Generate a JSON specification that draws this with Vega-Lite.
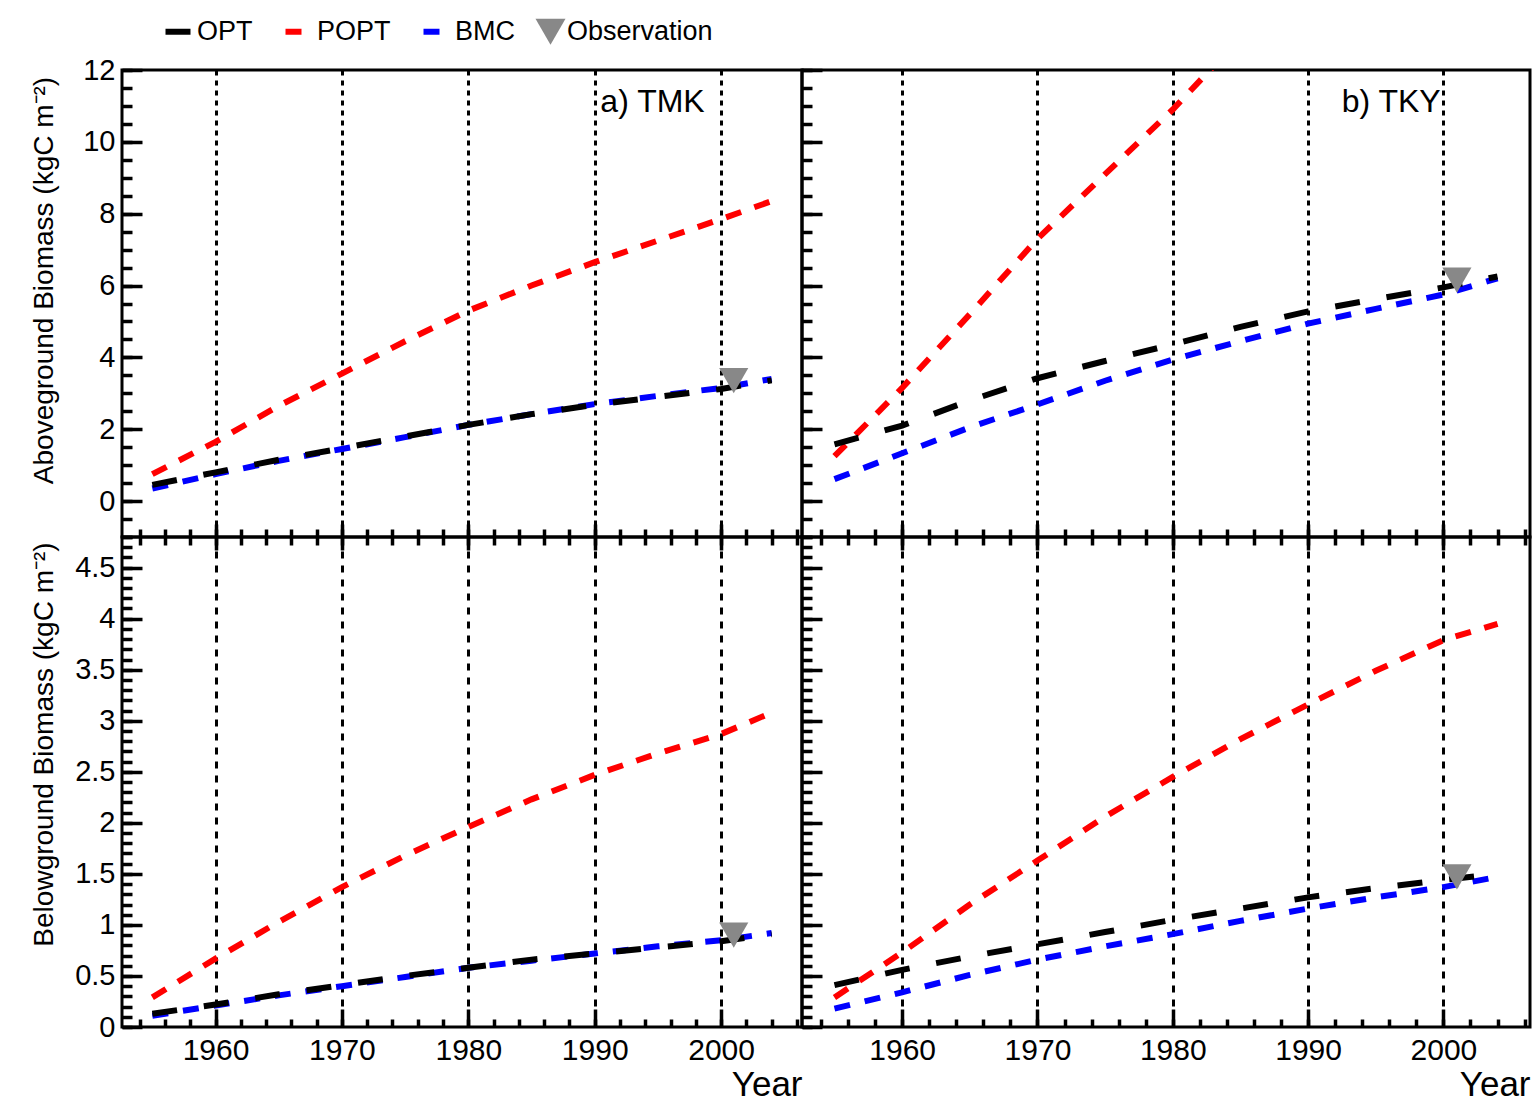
{
  "$schema": "https://vega.github.io/schema/vega-lite/v6.json",
  "padding": {"left": 28, "top": 18, "right": 0, "bottom": 0},
  "config": {
    "font": "Liberation Sans",
    "view": {"stroke": "black", "strokeWidth": 3},
    "axis": {"domain": false, "tickColor": "black", "labelColor": "black", "titleColor": "black", "titleFontWeight": "normal", "grid": false, "tickWidth": 3.5, "labelFont": "Liberation Sans", "titleFont": "Liberation Sans"}
  },
  "data": {"values": [
    {"site":"TMK","part":"Above","series":"POPT","year":1955,"value":0.75},
    {"site":"TMK","part":"Above","series":"POPT","year":1960,"value":1.65},
    {"site":"TMK","part":"Above","series":"POPT","year":1965,"value":2.65},
    {"site":"TMK","part":"Above","series":"POPT","year":1970,"value":3.55},
    {"site":"TMK","part":"Above","series":"POPT","year":1975,"value":4.45},
    {"site":"TMK","part":"Above","series":"POPT","year":1980,"value":5.3},
    {"site":"TMK","part":"Above","series":"POPT","year":1985,"value":6.0},
    {"site":"TMK","part":"Above","series":"POPT","year":1990,"value":6.65},
    {"site":"TMK","part":"Above","series":"POPT","year":1995,"value":7.25},
    {"site":"TMK","part":"Above","series":"POPT","year":2000,"value":7.85},
    {"site":"TMK","part":"Above","series":"POPT","year":2004,"value":8.35},
    {"site":"TMK","part":"Above","series":"BMC","year":1955,"value":0.35},
    {"site":"TMK","part":"Above","series":"BMC","year":1960,"value":0.75},
    {"site":"TMK","part":"Above","series":"BMC","year":1965,"value":1.12},
    {"site":"TMK","part":"Above","series":"BMC","year":1970,"value":1.45},
    {"site":"TMK","part":"Above","series":"BMC","year":1975,"value":1.78},
    {"site":"TMK","part":"Above","series":"BMC","year":1980,"value":2.12},
    {"site":"TMK","part":"Above","series":"BMC","year":1985,"value":2.42},
    {"site":"TMK","part":"Above","series":"BMC","year":1990,"value":2.7},
    {"site":"TMK","part":"Above","series":"BMC","year":1995,"value":2.93},
    {"site":"TMK","part":"Above","series":"BMC","year":2000,"value":3.15},
    {"site":"TMK","part":"Above","series":"BMC","year":2004,"value":3.4},
    {"site":"TMK","part":"Above","series":"OPT","year":1955,"value":0.45},
    {"site":"TMK","part":"Above","series":"OPT","year":1960,"value":0.8},
    {"site":"TMK","part":"Above","series":"OPT","year":1965,"value":1.15},
    {"site":"TMK","part":"Above","series":"OPT","year":1970,"value":1.47},
    {"site":"TMK","part":"Above","series":"OPT","year":1975,"value":1.8},
    {"site":"TMK","part":"Above","series":"OPT","year":1980,"value":2.12},
    {"site":"TMK","part":"Above","series":"OPT","year":1985,"value":2.42},
    {"site":"TMK","part":"Above","series":"OPT","year":1990,"value":2.68},
    {"site":"TMK","part":"Above","series":"OPT","year":1995,"value":2.9},
    {"site":"TMK","part":"Above","series":"OPT","year":2000,"value":3.12},
    {"site":"TMK","part":"Above","series":"OPT","year":2004,"value":3.36},
    {"site":"TMK","part":"Above","series":"Observation","year":2001,"value":3.35},

    {"site":"TKY","part":"Above","series":"POPT","year":1955,"value":1.25},
    {"site":"TKY","part":"Above","series":"POPT","year":1960,"value":3.15},
    {"site":"TKY","part":"Above","series":"POPT","year":1965,"value":5.2},
    {"site":"TKY","part":"Above","series":"POPT","year":1970,"value":7.3},
    {"site":"TKY","part":"Above","series":"POPT","year":1975,"value":9.1},
    {"site":"TKY","part":"Above","series":"POPT","year":1980,"value":10.9},
    {"site":"TKY","part":"Above","series":"POPT","year":1983,"value":12.1},
    {"site":"TKY","part":"Above","series":"BMC","year":1955,"value":0.61},
    {"site":"TKY","part":"Above","series":"BMC","year":1960,"value":1.33},
    {"site":"TKY","part":"Above","series":"BMC","year":1965,"value":2.05},
    {"site":"TKY","part":"Above","series":"BMC","year":1970,"value":2.69},
    {"site":"TKY","part":"Above","series":"BMC","year":1975,"value":3.35},
    {"site":"TKY","part":"Above","series":"BMC","year":1980,"value":3.94},
    {"site":"TKY","part":"Above","series":"BMC","year":1985,"value":4.45},
    {"site":"TKY","part":"Above","series":"BMC","year":1990,"value":4.94},
    {"site":"TKY","part":"Above","series":"BMC","year":1995,"value":5.35},
    {"site":"TKY","part":"Above","series":"BMC","year":2000,"value":5.75},
    {"site":"TKY","part":"Above","series":"BMC","year":2004,"value":6.2},
    {"site":"TKY","part":"Above","series":"OPT","year":1955,"value":1.58},
    {"site":"TKY","part":"Above","series":"OPT","year":1960,"value":2.1},
    {"site":"TKY","part":"Above","series":"OPT","year":1965,"value":2.8},
    {"site":"TKY","part":"Above","series":"OPT","year":1970,"value":3.42},
    {"site":"TKY","part":"Above","series":"OPT","year":1975,"value":3.9},
    {"site":"TKY","part":"Above","series":"OPT","year":1980,"value":4.36},
    {"site":"TKY","part":"Above","series":"OPT","year":1985,"value":4.85},
    {"site":"TKY","part":"Above","series":"OPT","year":1990,"value":5.28},
    {"site":"TKY","part":"Above","series":"OPT","year":1995,"value":5.62},
    {"site":"TKY","part":"Above","series":"OPT","year":2000,"value":5.95},
    {"site":"TKY","part":"Above","series":"OPT","year":2004,"value":6.25},
    {"site":"TKY","part":"Above","series":"Observation","year":2001,"value":6.15},

    {"site":"TMK","part":"Below","series":"POPT","year":1955,"value":0.29},
    {"site":"TMK","part":"Below","series":"POPT","year":1960,"value":0.67},
    {"site":"TMK","part":"Below","series":"POPT","year":1965,"value":1.03},
    {"site":"TMK","part":"Below","series":"POPT","year":1970,"value":1.37},
    {"site":"TMK","part":"Below","series":"POPT","year":1975,"value":1.68},
    {"site":"TMK","part":"Below","series":"POPT","year":1980,"value":1.96},
    {"site":"TMK","part":"Below","series":"POPT","year":1985,"value":2.23},
    {"site":"TMK","part":"Below","series":"POPT","year":1990,"value":2.47},
    {"site":"TMK","part":"Below","series":"POPT","year":1995,"value":2.68},
    {"site":"TMK","part":"Below","series":"POPT","year":2000,"value":2.87},
    {"site":"TMK","part":"Below","series":"POPT","year":2004,"value":3.08},
    {"site":"TMK","part":"Below","series":"BMC","year":1955,"value":0.11},
    {"site":"TMK","part":"Below","series":"BMC","year":1960,"value":0.21},
    {"site":"TMK","part":"Below","series":"BMC","year":1965,"value":0.31},
    {"site":"TMK","part":"Below","series":"BMC","year":1970,"value":0.4},
    {"site":"TMK","part":"Below","series":"BMC","year":1975,"value":0.49},
    {"site":"TMK","part":"Below","series":"BMC","year":1980,"value":0.58},
    {"site":"TMK","part":"Below","series":"BMC","year":1985,"value":0.65},
    {"site":"TMK","part":"Below","series":"BMC","year":1990,"value":0.72},
    {"site":"TMK","part":"Below","series":"BMC","year":1995,"value":0.79},
    {"site":"TMK","part":"Below","series":"BMC","year":2000,"value":0.85},
    {"site":"TMK","part":"Below","series":"BMC","year":2004,"value":0.92},
    {"site":"TMK","part":"Below","series":"OPT","year":1955,"value":0.13},
    {"site":"TMK","part":"Below","series":"OPT","year":1960,"value":0.22},
    {"site":"TMK","part":"Below","series":"OPT","year":1965,"value":0.32},
    {"site":"TMK","part":"Below","series":"OPT","year":1970,"value":0.41},
    {"site":"TMK","part":"Below","series":"OPT","year":1975,"value":0.5},
    {"site":"TMK","part":"Below","series":"OPT","year":1980,"value":0.58},
    {"site":"TMK","part":"Below","series":"OPT","year":1985,"value":0.66},
    {"site":"TMK","part":"Below","series":"OPT","year":1990,"value":0.72},
    {"site":"TMK","part":"Below","series":"OPT","year":1995,"value":0.78},
    {"site":"TMK","part":"Below","series":"OPT","year":2000,"value":0.84},
    {"site":"TMK","part":"Below","series":"OPT","year":2004,"value":0.91},
    {"site":"TMK","part":"Below","series":"Observation","year":2001,"value":0.9},

    {"site":"TKY","part":"Below","series":"POPT","year":1955,"value":0.29},
    {"site":"TKY","part":"Below","series":"POPT","year":1960,"value":0.73},
    {"site":"TKY","part":"Below","series":"POPT","year":1965,"value":1.2},
    {"site":"TKY","part":"Below","series":"POPT","year":1970,"value":1.63},
    {"site":"TKY","part":"Below","series":"POPT","year":1975,"value":2.06},
    {"site":"TKY","part":"Below","series":"POPT","year":1980,"value":2.45},
    {"site":"TKY","part":"Below","series":"POPT","year":1985,"value":2.82},
    {"site":"TKY","part":"Below","series":"POPT","year":1990,"value":3.16},
    {"site":"TKY","part":"Below","series":"POPT","year":1995,"value":3.49},
    {"site":"TKY","part":"Below","series":"POPT","year":2000,"value":3.79},
    {"site":"TKY","part":"Below","series":"POPT","year":2004,"value":3.95},
    {"site":"TKY","part":"Below","series":"BMC","year":1955,"value":0.18},
    {"site":"TKY","part":"Below","series":"BMC","year":1960,"value":0.34},
    {"site":"TKY","part":"Below","series":"BMC","year":1965,"value":0.51},
    {"site":"TKY","part":"Below","series":"BMC","year":1970,"value":0.66},
    {"site":"TKY","part":"Below","series":"BMC","year":1975,"value":0.79},
    {"site":"TKY","part":"Below","series":"BMC","year":1980,"value":0.91},
    {"site":"TKY","part":"Below","series":"BMC","year":1985,"value":1.04},
    {"site":"TKY","part":"Below","series":"BMC","year":1990,"value":1.16},
    {"site":"TKY","part":"Below","series":"BMC","year":1995,"value":1.27},
    {"site":"TKY","part":"Below","series":"BMC","year":2000,"value":1.37},
    {"site":"TKY","part":"Below","series":"BMC","year":2004,"value":1.47},
    {"site":"TKY","part":"Below","series":"OPT","year":1955,"value":0.41},
    {"site":"TKY","part":"Below","series":"OPT","year":1960,"value":0.56},
    {"site":"TKY","part":"Below","series":"OPT","year":1965,"value":0.69},
    {"site":"TKY","part":"Below","series":"OPT","year":1970,"value":0.81},
    {"site":"TKY","part":"Below","series":"OPT","year":1975,"value":0.93},
    {"site":"TKY","part":"Below","series":"OPT","year":1980,"value":1.05},
    {"site":"TKY","part":"Below","series":"OPT","year":1985,"value":1.16},
    {"site":"TKY","part":"Below","series":"OPT","year":1990,"value":1.27},
    {"site":"TKY","part":"Below","series":"OPT","year":1995,"value":1.36},
    {"site":"TKY","part":"Below","series":"OPT","year":2000,"value":1.44},
    {"site":"TKY","part":"Below","series":"OPT","year":2004,"value":1.5},
    {"site":"TKY","part":"Below","series":"Observation","year":2001,"value":1.47}
  ]},
  "columns": 2,
  "spacing": 0,
  "bounds": "flush",
  "align": "each",
  "concat": [
    {
      "width": 680, "height": 467,
      "layer": [
        {
          "transform": [{"filter": "datum.site === 'TMK' && datum.part === 'Above' && datum.series !== 'Observation'"}],
          "mark": {"type": "line", "strokeWidth": 6, "strokeCap": "butt", "clip": true},
          "encoding": {
            "x": {"field": "year", "type": "quantitative", "scale": {"domain": [1952.6, 2006.4], "nice": false, "zero": false},
                  "axis": {"orient": "bottom", "values": [1960,1970,1980,1990,2000], "labels": false, "title": null, "tickSize": 26, "offset": -13}},
            "y": {"field": "value", "type": "quantitative", "scale": {"domain": [-1, 12], "nice": false, "zero": false},
                  "axis": {"orient": "left", "values": [0,2,4,6,8,10,12], "format": "~g", "labelFontSize": 29, "labelPadding": 27, "tickSize": -20,
                           "title": "Aboveground Biomass (kgC m⁻²)", "titleFontSize": 28, "titleX": -64, "titleY": 210}},
            "color": {"field": "series", "type": "nominal",
                      "scale": {"domain": ["OPT","POPT","BMC","Observation"], "range": ["#000000","#ff0000","#0000ff","#888888"]},
                      "legend": {"title": null, "orient": "none", "legendX": 45, "legendY": -52, "direction": "horizontal",
                                 "labelFontSize": 27, "labelColor": "black", "labelOffset": 3, "columnPadding": 20,
                                 "symbolSize": 900, "symbolStrokeWidth": 6,
                                 "encode": {"symbols": {"update": {
                                   "shape": {"signal": "datum.value === 'Observation' ? 'triangle-down' : 'stroke'"},
                                   "fill": {"signal": "datum.value === 'Observation' ? '#888888' : 'transparent'"},
                                   "stroke": {"signal": "datum.value === 'OPT' ? '#000000' : datum.value === 'POPT' ? '#ff0000' : datum.value === 'BMC' ? '#0000ff' : '#888888'"},
                                   "strokeWidth": {"signal": "datum.value === 'Observation' ? 0 : 6"},
                                   "strokeDash": {"signal": "datum.value === 'OPT' ? [25,27] : datum.value === 'Observation' ? [] : [16,14]"},
                                   "opacity": {"value": 1}
                                 }}}}},
            "strokeDash": {"field": "series", "type": "nominal",
                           "scale": {"domain": ["OPT","POPT","BMC"], "range": [[25,27],[16,14],[16,15]]}, "legend": null}
          }
        },
        {
          "transform": [{"filter": "datum.site === 'TMK' && datum.part === 'Above' && datum.series === 'Observation'"}],
          "mark": {"type": "point", "shape": "triangle-down", "filled": true, "size": 850, "opacity": 1},
          "encoding": {
            "x": {"field": "year", "type": "quantitative",
                  "axis": {"orient": "bottom", "values": [1954,1956,1958,1960,1962,1964,1966,1968,1970,1972,1974,1976,1978,1980,1982,1984,1986,1988,1990,1992,1994,1996,1998,2000,2002,2004,2006], "labels": false, "title": null, "tickSize": 16, "offset": -8}},
            "y": {"field": "value", "type": "quantitative",
                  "axis": {"orient": "left", "values": [-1,-0.5,0,0.5,1,1.5,2,2.5,3,3.5,4,4.5,5,5.5,6,6.5,7,7.5,8,8.5,9,9.5,10,10.5,11,11.5,12], "labels": false, "title": null, "tickSize": -10}},
            "color": {"field": "series", "type": "nominal"}
          }
        },
        {
          "data": {"values": [{"label": "a) TMK"}]},
          "mark": {"type": "text", "align": "right", "baseline": "middle", "fontSize": 32, "color": "black"},
          "encoding": {
            "x": {"datum": 1998.7, "type": "quantitative",
                  "axis": {"orient": "bottom", "values": [1960,1970,1980,1990,2000], "labels": false, "ticks": false, "title": null, "grid": true, "gridColor": "black", "gridDash": [5,5], "gridWidth": 3, "gridOpacity": 1}},
            "y": {"datum": 11.1, "type": "quantitative", "axis": null},
            "text": {"field": "label"}
          }
        }
      ],
      "resolve": {"axis": {"x": "independent", "y": "independent"}}
    },
    {
      "width": 728, "height": 467,
      "layer": [
        {
          "transform": [{"filter": "datum.site === 'TKY' && datum.part === 'Above' && datum.series !== 'Observation'"}],
          "mark": {"type": "line", "strokeWidth": 6, "strokeCap": "butt", "clip": true},
          "encoding": {
            "x": {"field": "year", "type": "quantitative", "scale": {"domain": [1952.6, 2006.4], "nice": false, "zero": false},
                  "axis": {"orient": "bottom", "values": [1960,1970,1980,1990,2000], "labels": false, "title": null, "tickSize": 26, "offset": -13}},
            "y": {"field": "value", "type": "quantitative", "scale": {"domain": [-1, 12], "nice": false, "zero": false},
                  "axis": {"orient": "left", "values": [0,2,4,6,8,10,12], "labels": false, "title": null, "tickSize": -20}},
            "color": {"field": "series", "type": "nominal",
                      "scale": {"domain": ["OPT","POPT","BMC","Observation"], "range": ["#000000","#ff0000","#0000ff","#888888"]}},
            "strokeDash": {"field": "series", "type": "nominal",
                           "scale": {"domain": ["OPT","POPT","BMC"], "range": [[25,27],[16,14],[16,15]]}, "legend": null}
          }
        },
        {
          "transform": [{"filter": "datum.site === 'TKY' && datum.part === 'Above' && datum.series === 'Observation'"}],
          "mark": {"type": "point", "shape": "triangle-down", "filled": true, "size": 850, "opacity": 1},
          "encoding": {
            "x": {"field": "year", "type": "quantitative",
                  "axis": {"orient": "bottom", "values": [1954,1956,1958,1960,1962,1964,1966,1968,1970,1972,1974,1976,1978,1980,1982,1984,1986,1988,1990,1992,1994,1996,1998,2000,2002,2004,2006], "labels": false, "title": null, "tickSize": 16, "offset": -8}},
            "y": {"field": "value", "type": "quantitative",
                  "axis": {"orient": "left", "values": [-1,-0.5,0,0.5,1,1.5,2,2.5,3,3.5,4,4.5,5,5.5,6,6.5,7,7.5,8,8.5,9,9.5,10,10.5,11,11.5,12], "labels": false, "title": null, "tickSize": -10}},
            "color": {"field": "series", "type": "nominal"}
          }
        },
        {
          "data": {"values": [{"label": "b) TKY"}]},
          "mark": {"type": "text", "align": "right", "baseline": "middle", "fontSize": 32, "color": "black"},
          "encoding": {
            "x": {"datum": 1999.8, "type": "quantitative",
                  "axis": {"orient": "bottom", "values": [1960,1970,1980,1990,2000], "labels": false, "ticks": false, "title": null, "grid": true, "gridColor": "black", "gridDash": [5,5], "gridWidth": 3, "gridOpacity": 1}},
            "y": {"datum": 11.1, "type": "quantitative", "axis": null},
            "text": {"field": "label"}
          }
        }
      ],
      "resolve": {"axis": {"x": "independent", "y": "independent"}}
    },
    {
      "width": 680, "height": 490,
      "layer": [
        {
          "transform": [{"filter": "datum.site === 'TMK' && datum.part === 'Below' && datum.series !== 'Observation'"}],
          "mark": {"type": "line", "strokeWidth": 6, "strokeCap": "butt", "clip": true},
          "encoding": {
            "x": {"field": "year", "type": "quantitative", "scale": {"domain": [1952.6, 2006.4], "nice": false, "zero": false},
                  "axis": {"orient": "bottom", "values": [1960,1970,1980,1990,2000], "format": "d", "labelFontSize": 30, "labelPadding": 26, "tickSize": -18,
                           "title": "Year", "titleFontSize": 35, "titleAnchor": "end", "titlePadding": 2,
                           "grid": true, "gridColor": "black", "gridDash": [7,7], "gridWidth": 3, "gridOpacity": 1}},
            "y": {"field": "value", "type": "quantitative", "scale": {"domain": [0, 4.8], "nice": false, "zero": false},
                  "axis": {"orient": "left", "values": [0,0.5,1,1.5,2,2.5,3,3.5,4,4.5], "format": "~g", "labelFontSize": 29, "labelPadding": 27, "tickSize": -20,
                           "title": "Belowground Biomass (kgC m⁻²)", "titleFontSize": 28, "titleX": -64, "titleY": 207}},
            "color": {"field": "series", "type": "nominal",
                      "scale": {"domain": ["OPT","POPT","BMC","Observation"], "range": ["#000000","#ff0000","#0000ff","#888888"]}},
            "strokeDash": {"field": "series", "type": "nominal",
                           "scale": {"domain": ["OPT","POPT","BMC"], "range": [[25,27],[16,14],[16,15]]}, "legend": null}
          }
        },
        {
          "transform": [{"filter": "datum.site === 'TMK' && datum.part === 'Below' && datum.series === 'Observation'"}],
          "mark": {"type": "point", "shape": "triangle-down", "filled": true, "size": 850, "opacity": 1},
          "encoding": {
            "x": {"field": "year", "type": "quantitative",
                  "axis": {"orient": "bottom", "values": [1954,1956,1958,1960,1962,1964,1966,1968,1970,1972,1974,1976,1978,1980,1982,1984,1986,1988,1990,1992,1994,1996,1998,2000,2002,2004,2006], "labels": false, "title": null, "tickSize": -8}},
            "y": {"field": "value", "type": "quantitative",
                  "axis": {"orient": "left", "values": [0,0.1,0.2,0.3,0.4,0.5,0.6,0.7,0.8,0.9,1,1.1,1.2,1.3,1.4,1.5,1.6,1.7,1.8,1.9,2,2.1,2.2,2.3,2.4,2.5,2.6,2.7,2.8,2.9,3,3.1,3.2,3.3,3.4,3.5,3.6,3.7,3.8,3.9,4,4.1,4.2,4.3,4.4,4.5,4.6,4.7,4.8], "labels": false, "title": null, "tickSize": -10}},
            "color": {"field": "series", "type": "nominal"}
          }
        }
      ],
      "resolve": {"axis": {"x": "independent", "y": "independent"}}
    },
    {
      "width": 728, "height": 490,
      "layer": [
        {
          "transform": [{"filter": "datum.site === 'TKY' && datum.part === 'Below' && datum.series !== 'Observation'"}],
          "mark": {"type": "line", "strokeWidth": 6, "strokeCap": "butt", "clip": true},
          "encoding": {
            "x": {"field": "year", "type": "quantitative", "scale": {"domain": [1952.6, 2006.4], "nice": false, "zero": false},
                  "axis": {"orient": "bottom", "values": [1960,1970,1980,1990,2000], "format": "d", "labelFontSize": 30, "labelPadding": 26, "tickSize": -18,
                           "title": "Year", "titleFontSize": 35, "titleAnchor": "end", "titlePadding": 2,
                           "grid": true, "gridColor": "black", "gridDash": [7,7], "gridWidth": 3, "gridOpacity": 1}},
            "y": {"field": "value", "type": "quantitative", "scale": {"domain": [0, 4.8], "nice": false, "zero": false},
                  "axis": {"orient": "left", "values": [0,0.5,1,1.5,2,2.5,3,3.5,4,4.5], "labels": false, "title": null, "tickSize": -20}},
            "color": {"field": "series", "type": "nominal",
                      "scale": {"domain": ["OPT","POPT","BMC","Observation"], "range": ["#000000","#ff0000","#0000ff","#888888"]}},
            "strokeDash": {"field": "series", "type": "nominal",
                           "scale": {"domain": ["OPT","POPT","BMC"], "range": [[25,27],[16,14],[16,15]]}, "legend": null}
          }
        },
        {
          "transform": [{"filter": "datum.site === 'TKY' && datum.part === 'Below' && datum.series === 'Observation'"}],
          "mark": {"type": "point", "shape": "triangle-down", "filled": true, "size": 850, "opacity": 1},
          "encoding": {
            "x": {"field": "year", "type": "quantitative",
                  "axis": {"orient": "bottom", "values": [1954,1956,1958,1960,1962,1964,1966,1968,1970,1972,1974,1976,1978,1980,1982,1984,1986,1988,1990,1992,1994,1996,1998,2000,2002,2004,2006], "labels": false, "title": null, "tickSize": -8}},
            "y": {"field": "value", "type": "quantitative",
                  "axis": {"orient": "left", "values": [0,0.1,0.2,0.3,0.4,0.5,0.6,0.7,0.8,0.9,1,1.1,1.2,1.3,1.4,1.5,1.6,1.7,1.8,1.9,2,2.1,2.2,2.3,2.4,2.5,2.6,2.7,2.8,2.9,3,3.1,3.2,3.3,3.4,3.5,3.6,3.7,3.8,3.9,4,4.1,4.2,4.3,4.4,4.5,4.6,4.7,4.8], "labels": false, "title": null, "tickSize": -10}},
            "color": {"field": "series", "type": "nominal"}
          }
        }
      ],
      "resolve": {"axis": {"x": "independent", "y": "independent"}}
    }
  ]
}
